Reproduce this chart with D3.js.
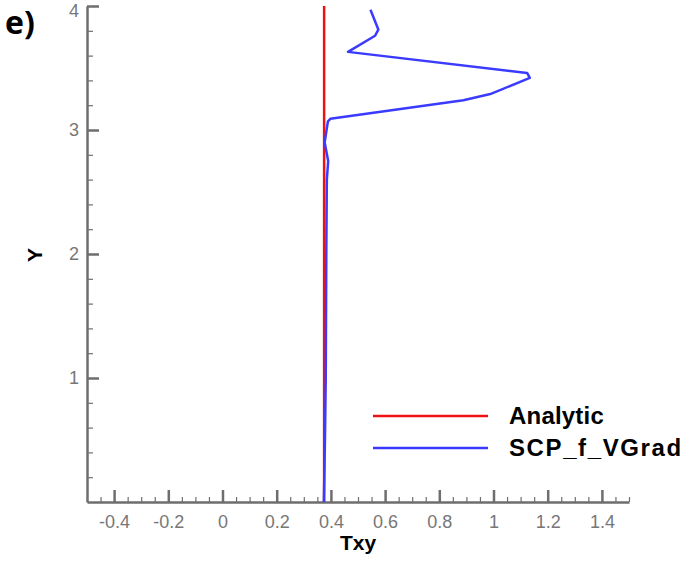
<!DOCTYPE html>
<html>
<head>
<meta charset="utf-8">
<script src="https://cdn.jsdelivr.net/npm/d3@7"></script>
<style>
  body { margin: 0; background: #fff; }
  text { font-family: "Liberation Sans", Arial, sans-serif; }
</style>
</head>
<body>
<div id="chart"></div>
<script>
// data
const analyticY = [0, 4];
const analyticTxy = [0.375, 0.375];

const scpY   = [0.0, 0.5, 1.0, 2.0, 2.6, 2.75, 2.9, 3.07, 3.09, 3.24, 3.29, 3.42, 3.46, 3.63, 3.76, 3.81, 3.97];
const scpTxy = [0.374, 0.378, 0.381, 0.383, 0.385, 0.39, 0.377, 0.389, 0.398, 0.889, 0.988, 1.134, 1.124, 0.463, 0.563, 0.575, 0.546];

const xTicks = [-0.4, -0.2, 0, 0.2, 0.4, 0.6, 0.8, 1, 1.2, 1.4];
const yTicks = [1, 2, 3, 4];
const legendNames = ["Analytic", "SCP_f_VGrad"];
const colors = ["#ee1111", "#3b3bff"];

const W = 684, H = 563;
const svg = d3.select("#chart").append("svg")
  .attr("width", W).attr("height", H);

const x = d3.scaleLinear().domain([-0.5, 1.5]).range([87, 629]);
const y = d3.scaleLinear().domain([0, 4]).range([502, 6]);

const axisColor = "#6e6e6e";
// plain hyphen for negatives, like the original
const fmt = d => String(+(+d).toFixed(1));

// minor ticks
const xMinor = d3.range(-0.5, 1.5001, 0.05).filter(v => Math.abs(v * 5 - Math.round(v * 5)) > 1e-6);
const yMinor = d3.range(0.2, 4, 0.2).filter(v => Math.abs(v - Math.round(v)) > 1e-6);

svg.append("g")
  .attr("transform", `translate(0,${y(0)})`)
  .call(d3.axisBottom(x).tickValues(xMinor).tickSizeInner(-5).tickSizeOuter(0).tickFormat(""))
  .call(g => g.select(".domain").remove())
  .call(g => g.selectAll("line").attr("stroke", axisColor).attr("stroke-width", 1.2));

svg.append("g")
  .attr("transform", `translate(${x(-0.5)},0)`)
  .call(d3.axisLeft(y).tickValues(yMinor).tickSizeInner(-6).tickSizeOuter(0).tickFormat(""))
  .call(g => g.select(".domain").remove())
  .call(g => g.selectAll("line").attr("stroke", axisColor).attr("stroke-width", 1.2));

// main axes
const xAxis = svg.append("g")
  .attr("transform", `translate(0,${y(0)})`)
  .call(d3.axisBottom(x).tickValues(xTicks).tickSizeInner(-12).tickSizeOuter(0).tickPadding(13)
    .tickFormat(fmt));
xAxis.select(".domain").attr("stroke", axisColor).attr("stroke-width", 2.5);
xAxis.selectAll("line").attr("stroke", axisColor).attr("stroke-width", 2.5);
xAxis.selectAll("text").attr("fill", "#777").attr("font-size", 18)
  .style("font-family", "'Liberation Sans', Arial, sans-serif");

const yAxis = svg.append("g")
  .attr("transform", `translate(${x(-0.5)},0)`)
  .call(d3.axisLeft(y).tickValues(yTicks).tickSizeInner(-12).tickSizeOuter(0).tickPadding(8)
    .tickFormat(fmt));
yAxis.select(".domain").attr("stroke", axisColor).attr("stroke-width", 2.5);
yAxis.selectAll("line").attr("stroke", axisColor).attr("stroke-width", 2.5);
yAxis.selectAll("text").attr("fill", "#777").attr("font-size", 18)
  .style("font-family", "'Liberation Sans', Arial, sans-serif");
yAxis.selectAll(".tick").filter(d => d === 4).select("text").attr("dy", "0.6em");

// lines
const line = d3.line().x(d => x(d[0])).y(d => y(d[1]));

svg.append("path")
  .datum(d3.zip(analyticTxy, analyticY))
  .attr("fill", "none").attr("stroke", colors[0]).attr("stroke-width", 2.5)
  .attr("d", line);

svg.append("path")
  .datum(d3.zip(scpTxy, scpY))
  .attr("fill", "none").attr("stroke", colors[1]).attr("stroke-width", 2.5)
  .attr("stroke-linejoin", "round")
  .attr("d", line);

// axis titles
svg.append("text")
  .attr("x", 358).attr("y", 550)
  .attr("text-anchor", "middle")
  .attr("font-size", 21).attr("font-weight", "bold")
  .text("Txy");

svg.append("text")
  .attr("transform", "translate(42,255) rotate(-90)")
  .attr("text-anchor", "middle")
  .attr("font-size", 21).attr("font-weight", "bold")
  .text("Y");

// panel label
svg.append("text")
  .attr("x", 5).attr("y", 34)
  .attr("font-size", 32).attr("font-weight", "bold")
  .style("font-family", "'Open Sans', 'Liberation Sans', sans-serif")
  .text("e)");

// legend
const legend = svg.append("g");
legendNames.forEach((name, i) => {
  const ly = 416 + i * 32;
  legend.append("line")
    .attr("x1", 373).attr("x2", 488)
    .attr("y1", ly).attr("y2", ly)
    .attr("stroke", colors[i]).attr("stroke-width", 2.5);
  legend.append("text")
    .attr("x", 509).attr("y", ly + 8)
    .attr("font-size", 24).attr("font-weight", "bold")
    .attr("letter-spacing", i === 1 ? 1.6 : 0.2)
    .text(name);
});
</script>
</body>
</html>
